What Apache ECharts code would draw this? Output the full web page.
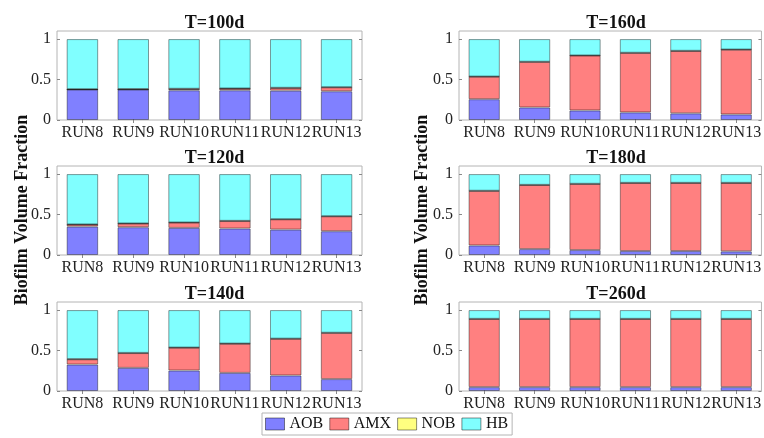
<!DOCTYPE html>
<html>
<head>
<meta charset="utf-8">
<script src="https://cdn.jsdelivr.net/npm/echarts@6/dist/echarts.min.js"></script>
<style>
  html, body { margin: 0; padding: 0; background: #fff; }
  #chart { width: 764px; height: 438px; }
</style>
</head>
<body>
<div id="chart"></div>
<script>
// Biofilm composition per run at six sampling times (stacked volume fractions)
const runs = ['RUN8', 'RUN9', 'RUN10', 'RUN11', 'RUN12', 'RUN13'];
const days = ['T=100d', 'T=120d', 'T=140d', 'T=160d', 'T=180d', 'T=260d'];
const speciesNames = ['AOB', 'AMX', 'NOB', 'HB'];
const yTicks = [0, 0.5, 1];

// one row per sampling time, one column per run
const aobFrac = [
  [0.376, 0.376, 0.367, 0.367, 0.363, 0.355],
  [0.351, 0.343, 0.335, 0.327, 0.314, 0.294],
  [0.327, 0.286, 0.253, 0.224, 0.192, 0.147],
  [0.257, 0.155, 0.118, 0.094, 0.082, 0.069],
  [0.118, 0.073, 0.061, 0.049, 0.049, 0.045],
  [0.048, 0.048, 0.048, 0.048, 0.048, 0.048]
];
const amxFrac = [
  [0.003, 0.004, 0.017, 0.021, 0.033, 0.049],
  [0.025, 0.045, 0.065, 0.093, 0.127, 0.184],
  [0.065, 0.183, 0.282, 0.360, 0.453, 0.571],
  [0.278, 0.563, 0.678, 0.735, 0.771, 0.800],
  [0.674, 0.792, 0.817, 0.841, 0.841, 0.845],
  [0.842, 0.842, 0.842, 0.842, 0.842, 0.842]
];
const nobFrac = [
  [0.002, 0.002, 0.002, 0.002, 0.002, 0.002],
  [0.002, 0.002, 0.002, 0.002, 0.002, 0.002],
  [0.002, 0.002, 0.002, 0.002, 0.002, 0.002],
  [0.002, 0.002, 0.002, 0.002, 0.002, 0.002],
  [0.002, 0.002, 0.002, 0.002, 0.002, 0.002],
  [0.002, 0.002, 0.002, 0.002, 0.002, 0.002]
];
const hbFrac = [
  [0.619, 0.618, 0.614, 0.610, 0.602, 0.594],
  [0.622, 0.610, 0.598, 0.578, 0.557, 0.520],
  [0.606, 0.529, 0.463, 0.414, 0.353, 0.280],
  [0.463, 0.280, 0.202, 0.169, 0.145, 0.129],
  [0.206, 0.133, 0.120, 0.108, 0.108, 0.108],
  [0.108, 0.108, 0.108, 0.108, 0.108, 0.108]
];

const fracs = [aobFrac, amxFrac, nobFrac, hbFrac];
const colors = ['#8080ff', '#ff8080', '#ffff80', '#80ffff'];
const FONT = 'Liberation Serif, Times New Roman, serif';

// panel layout: left column holds the first three times, right column the rest
const colLeft = [57, 459];
const colWidth = [305, 304];
const rowTop = [31, 166, 302];
const rowHeight = 89;

const grids = [], xAxes = [], yAxes = [], titles = [], series = [];

days.forEach((day, d) => {
  const col = Math.floor(d / 3);
  const row = d % 3;
  grids.push({
    left: colLeft[col], top: rowTop[row], width: colWidth[col], height: rowHeight,
    show: true, borderColor: '#b4b4b4', borderWidth: 1, backgroundColor: 'transparent'
  });
  titles.push({
    text: day,
    left: colLeft[col] + colWidth[col] / 2,
    top: rowTop[row] - 22,
    textAlign: 'center',
    textStyle: { fontFamily: FONT, fontSize: 18, fontWeight: 'bold', color: '#111' }
  });
  // bottom category axis with labels
  xAxes.push({
    type: 'category', gridIndex: d, data: runs, position: 'bottom',
    axisLine: { show: false },
    axisTick: { show: true, inside: true, alignWithLabel: true, length: 3, lineStyle: { color: '#888' } },
    axisLabel: { fontFamily: FONT, fontSize: 16, color: '#222', margin: 5, interval: 0 }
  });
  // top mirror axis carrying only ticks
  xAxes.push({
    type: 'category', gridIndex: d, data: runs, position: 'top',
    axisLine: { show: false },
    axisTick: { show: true, inside: true, alignWithLabel: true, length: 3, lineStyle: { color: '#888' } },
    axisLabel: { show: false }
  });
  yAxes.push({
    type: 'value', gridIndex: d, min: 0, max: 1.1, interval: 0.5, position: 'left',
    splitLine: { show: false },
    axisLine: { show: false },
    axisTick: { show: true, inside: true, length: 3, customValues: yTicks, lineStyle: { color: '#888' } },
    axisLabel: {
      fontFamily: FONT, fontSize: 16, color: '#222', margin: 6,
      customValues: yTicks,
      formatter: v => String(v)
    }
  });
  yAxes.push({
    type: 'value', gridIndex: d, min: 0, max: 1.1, interval: 0.5, position: 'right',
    splitLine: { show: false },
    axisLine: { show: false },
    axisTick: { show: true, inside: true, length: 3, customValues: yTicks, lineStyle: { color: '#888' } },
    axisLabel: { show: false }
  });
  speciesNames.forEach((name, s) => {
    series.push({
      name: name,
      type: 'bar',
      stack: 'panel' + d,
      xAxisIndex: 2 * d,
      yAxisIndex: 2 * d,
      barWidth: '62%',
      data: fracs[s][d],
      itemStyle: { color: colors[s], borderColor: 'rgba(0,0,0,0.4)', borderWidth: 1 },
      emphasis: { disabled: true },
      animation: false
    });
  });
});

const chart = echarts.init(document.getElementById('chart'), null, { renderer: 'canvas' });
chart.setOption({
  backgroundColor: '#fff',
  animation: false,
  textStyle: { fontFamily: FONT },
  title: titles,
  grid: grids,
  xAxis: xAxes,
  yAxis: yAxes,
  series: series,
  legend: {
    data: speciesNames,
    left: 262, top: 413,
    orient: 'horizontal',
    icon: 'rect',
    itemWidth: 19, itemHeight: 12, itemGap: 6,
    padding: [3, 4, 3, 3],
    borderColor: '#b4b4b4', borderWidth: 1,
    textStyle: { fontFamily: FONT, fontSize: 16, color: '#111' },
    itemStyle: { borderColor: 'rgba(0,0,0,0.45)', borderWidth: 1 }
  },
  graphic: [
    {
      type: 'text', x: 22, y: 210, rotation: Math.PI / 2,
      style: { text: 'Biofilm Volume Fraction', fontFamily: FONT, fontSize: 18, fontWeight: 'bold',
               fill: '#111', align: 'center', verticalAlign: 'middle' }
    },
    {
      type: 'text', x: 422, y: 210, rotation: Math.PI / 2,
      style: { text: 'Biofilm Volume Fraction', fontFamily: FONT, fontSize: 18, fontWeight: 'bold',
               fill: '#111', align: 'center', verticalAlign: 'middle' }
    }
  ]
});
</script>
</body>
</html>
